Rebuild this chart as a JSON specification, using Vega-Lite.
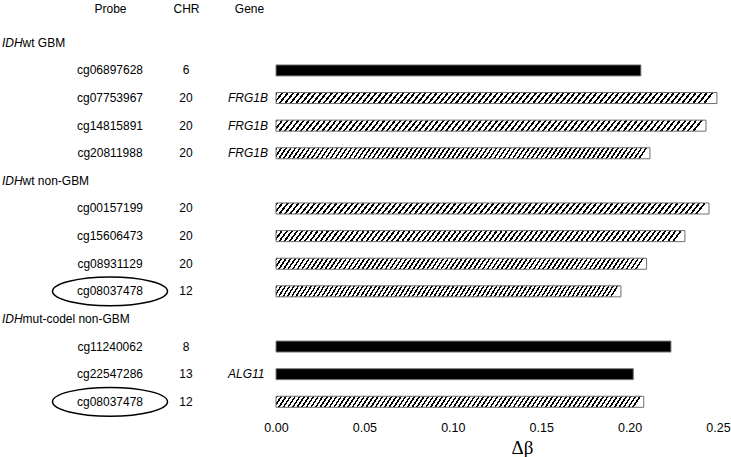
{
  "$schema": "https://vega.github.io/schema/vega-lite/v6.json",
  "background": "white",
  "padding": {"left": 2, "top": 2, "right": 5, "bottom": 3},
  "datasets": {
    "rows": [
      {"id": "r01", "kind": "group", "pre": "IDH", "rest": "wt GBM"},
      {"id": "r02", "kind": "probe", "probe": "cg06897628", "chr": "6", "gene": "", "delta": 0.2064, "pattern": "solid", "circled": false},
      {"id": "r03", "kind": "probe", "probe": "cg07753967", "chr": "20", "gene": "FRG1B", "delta": 0.2494, "pattern": "hatched", "circled": false},
      {"id": "r04", "kind": "probe", "probe": "cg14815891", "chr": "20", "gene": "FRG1B", "delta": 0.2432, "pattern": "hatched", "circled": false},
      {"id": "r05", "kind": "probe", "probe": "cg20811988", "chr": "20", "gene": "FRG1B", "delta": 0.2115, "pattern": "hatched", "circled": false},
      {"id": "r06", "kind": "group", "pre": "IDH", "rest": "wt non-GBM"},
      {"id": "r07", "kind": "probe", "probe": "cg00157199", "chr": "20", "gene": "", "delta": 0.2449, "pattern": "hatched", "circled": false},
      {"id": "r08", "kind": "probe", "probe": "cg15606473", "chr": "20", "gene": "", "delta": 0.2313, "pattern": "hatched", "circled": false},
      {"id": "r09", "kind": "probe", "probe": "cg08931129", "chr": "20", "gene": "", "delta": 0.2096, "pattern": "hatched", "circled": false},
      {"id": "r10", "kind": "probe", "probe": "cg08037478", "chr": "12", "gene": "", "delta": 0.1951, "pattern": "hatched", "circled": true},
      {"id": "r11", "kind": "group", "pre": "IDH", "rest": "mut-codel non-GBM"},
      {"id": "r12", "kind": "probe", "probe": "cg11240062", "chr": "8", "gene": "", "delta": 0.2234, "pattern": "solid", "circled": false},
      {"id": "r13", "kind": "probe", "probe": "cg22547286", "chr": "13", "gene": "ALG11", "delta": 0.2021, "pattern": "solid", "circled": false},
      {"id": "r14", "kind": "probe", "probe": "cg08037478", "chr": "12", "gene": "", "delta": 0.2080, "pattern": "hatched", "circled": true}
    ]
  },
  "data": {"name": "rows"},
  "spacing": 0,
  "bounds": "flush",
  "resolve": {"scale": {"x": "independent", "y": "shared"}},
  "hconcat": [
    {
      "width": 148,
      "height": 386.6,
      "layer": [
        {
          "transform": [{"filter": "datum.kind === 'group'"}],
          "mark": {"type": "text", "align": "left", "baseline": "middle", "fontStyle": "italic"},
          "encoding": {
            "x": {"datum": "_", "type": "nominal", "scale": {"type": "point", "domain": ["_", "Probe"], "padding": 0.1852, "align": 0}, "axis": {"orient": "top", "values": ["Probe"], "title": null, "domain": false, "ticks": false, "tickSize": 0, "labelPadding": 13.8, "labelAngle": 0, "labelFontSize": 12, "labelColor": "black", "grid": false}},
            "y": {"field": "id", "type": "nominal", "axis": null, "scale": {"type": "band", "paddingInner": 0.6, "paddingOuter": 0.3}},
            "text": {"field": "pre"}
          }
        },
        {
          "transform": [{"filter": "datum.kind === 'group'"}],
          "mark": {"type": "text", "align": "left", "baseline": "middle", "dx": 20.5},
          "encoding": {
            "x": {"datum": "_", "type": "nominal", "scale": {"type": "point", "domain": ["_", "Probe"], "padding": 0.1852, "align": 0}, "axis": {"orient": "top", "values": ["Probe"], "title": null, "domain": false, "ticks": false, "tickSize": 0, "labelPadding": 13.8, "labelAngle": 0, "labelFontSize": 12, "labelColor": "black", "grid": false}},
            "y": {"field": "id", "type": "nominal", "axis": null, "scale": {"type": "band", "paddingInner": 0.6, "paddingOuter": 0.3}},
            "text": {"field": "rest"}
          }
        },
        {
          "transform": [{"filter": "datum.kind === 'probe'"}],
          "mark": {"type": "text", "align": "center", "baseline": "middle"},
          "encoding": {
            "x": {"datum": "Probe", "type": "nominal", "scale": {"type": "point", "domain": ["_", "Probe"], "padding": 0.1852, "align": 0}, "axis": {"orient": "top", "values": ["Probe"], "title": null, "domain": false, "ticks": false, "tickSize": 0, "labelPadding": 13.8, "labelAngle": 0, "labelFontSize": 12, "labelColor": "black", "grid": false}},
            "y": {"field": "id", "type": "nominal", "axis": null, "scale": {"type": "band", "paddingInner": 0.6, "paddingOuter": 0.3}},
            "text": {"field": "probe"}
          }
        },
        {
          "transform": [{"filter": "datum.circled === true"}],
          "mark": {"type": "point", "shape": "M -1 0 A 1 0.25 0 1 1 1 0 A 1 0.25 0 1 1 -1 0 Z", "size": 13225, "filled": false, "stroke": "black", "strokeWidth": 1.5, "opacity": 1},
          "encoding": {
            "x": {"datum": "Probe", "type": "nominal", "scale": {"type": "point", "domain": ["_", "Probe"], "padding": 0.1852, "align": 0}, "axis": {"orient": "top", "values": ["Probe"], "title": null, "domain": false, "ticks": false, "tickSize": 0, "labelPadding": 13.8, "labelAngle": 0, "labelFontSize": 12, "labelColor": "black", "grid": false}},
            "y": {"field": "id", "type": "nominal", "axis": null, "scale": {"type": "band", "paddingInner": 0.6, "paddingOuter": 0.3}}
          }
        }
      ]
    },
    {
      "width": 72,
      "height": 386.6,
      "transform": [{"filter": "datum.kind === 'probe'"}],
      "mark": {"type": "text", "align": "center", "baseline": "middle"},
      "encoding": {
        "x": {"datum": "CHR", "type": "nominal", "scale": {"type": "point"}, "axis": {"orient": "top", "title": null, "domain": false, "ticks": false, "tickSize": 0, "labelPadding": 13.8, "labelAngle": 0, "labelFontSize": 12, "labelColor": "black", "grid": false}},
        "y": {"field": "id", "type": "nominal", "axis": null, "scale": {"type": "band", "paddingInner": 0.6, "paddingOuter": 0.3}},
        "text": {"field": "chr"}
      }
    },
    {
      "width": 54,
      "height": 386.6,
      "transform": [{"filter": "datum.kind === 'probe'"}],
      "mark": {"type": "text", "align": "left", "baseline": "middle", "fontStyle": "italic", "dx": -21},
      "encoding": {
        "x": {"datum": "Gene", "type": "nominal", "scale": {"type": "point"}, "axis": {"orient": "top", "title": null, "domain": false, "ticks": false, "tickSize": 0, "labelPadding": 13.8, "labelAngle": 0, "labelFontSize": 12, "labelColor": "black", "grid": false}},
        "y": {"field": "id", "type": "nominal", "axis": null, "scale": {"type": "band", "paddingInner": 0.6, "paddingOuter": 0.3}},
        "text": {"field": "gene"}
      }
    },
    {
      "width": 442,
      "height": 386.6,
      "encoding": {
        "x": {"field": "delta", "type": "quantitative", "scale": {"domain": [0, 0.25], "nice": false, "zero": true}, "axis": {"values": [0, 0.05, 0.1, 0.15, 0.2, 0.25], "format": ".2f", "domain": false, "ticks": false, "tickSize": 0, "grid": false, "labelFlush": false, "labelOverlap": false, "labelPadding": 6, "labelFontSize": 12.5, "labelColor": "black", "title": "Δβ", "titleFont": "Liberation Serif", "titleFontSize": 19, "titleFontWeight": "normal", "titleColor": "black", "titlePadding": 4, "titleX": 246}},
        "y": {"field": "id", "type": "nominal", "axis": null, "scale": {"type": "band", "paddingInner": 0.6, "paddingOuter": 0.3}}
      },
      "layer": [
        {
          "transform": [{"filter": "datum.pattern === 'solid'"}],
          "mark": {"type": "bar", "fill": "black", "stroke": "#808080", "strokeWidth": 1}
        },
        {
          "transform": [{"filter": "datum.pattern === 'hatched'"}],
          "mark": {"type": "bar", "stroke": "#6e6e6e", "strokeWidth": 1, "fill": {"gradient": "linear", "x1": 0, "y1": 0, "x2": 1, "y2": 0.02, "stops": [
            {"offset": 0, "color": "#000"}, {"offset": 0.005, "color": "#000"}, {"offset": 0.005, "color": "#fff"}, {"offset": 0.0125, "color": "#fff"},
            {"offset": 0.0125, "color": "#000"}, {"offset": 0.0175, "color": "#000"}, {"offset": 0.0175, "color": "#fff"}, {"offset": 0.025, "color": "#fff"},
            {"offset": 0.025, "color": "#000"}, {"offset": 0.03, "color": "#000"}, {"offset": 0.03, "color": "#fff"}, {"offset": 0.0375, "color": "#fff"},
            {"offset": 0.0375, "color": "#000"}, {"offset": 0.0425, "color": "#000"}, {"offset": 0.0425, "color": "#fff"}, {"offset": 0.05, "color": "#fff"},
            {"offset": 0.05, "color": "#000"}, {"offset": 0.055, "color": "#000"}, {"offset": 0.055, "color": "#fff"}, {"offset": 0.0625, "color": "#fff"},
            {"offset": 0.0625, "color": "#000"}, {"offset": 0.0675, "color": "#000"}, {"offset": 0.0675, "color": "#fff"}, {"offset": 0.075, "color": "#fff"},
            {"offset": 0.075, "color": "#000"}, {"offset": 0.08, "color": "#000"}, {"offset": 0.08, "color": "#fff"}, {"offset": 0.0875, "color": "#fff"},
            {"offset": 0.0875, "color": "#000"}, {"offset": 0.0925, "color": "#000"}, {"offset": 0.0925, "color": "#fff"}, {"offset": 0.1, "color": "#fff"},
            {"offset": 0.1, "color": "#000"}, {"offset": 0.105, "color": "#000"}, {"offset": 0.105, "color": "#fff"}, {"offset": 0.1125, "color": "#fff"},
            {"offset": 0.1125, "color": "#000"}, {"offset": 0.1175, "color": "#000"}, {"offset": 0.1175, "color": "#fff"}, {"offset": 0.125, "color": "#fff"},
            {"offset": 0.125, "color": "#000"}, {"offset": 0.13, "color": "#000"}, {"offset": 0.13, "color": "#fff"}, {"offset": 0.1375, "color": "#fff"},
            {"offset": 0.1375, "color": "#000"}, {"offset": 0.1425, "color": "#000"}, {"offset": 0.1425, "color": "#fff"}, {"offset": 0.15, "color": "#fff"},
            {"offset": 0.15, "color": "#000"}, {"offset": 0.155, "color": "#000"}, {"offset": 0.155, "color": "#fff"}, {"offset": 0.1625, "color": "#fff"},
            {"offset": 0.1625, "color": "#000"}, {"offset": 0.1675, "color": "#000"}, {"offset": 0.1675, "color": "#fff"}, {"offset": 0.175, "color": "#fff"},
            {"offset": 0.175, "color": "#000"}, {"offset": 0.18, "color": "#000"}, {"offset": 0.18, "color": "#fff"}, {"offset": 0.1875, "color": "#fff"},
            {"offset": 0.1875, "color": "#000"}, {"offset": 0.1925, "color": "#000"}, {"offset": 0.1925, "color": "#fff"}, {"offset": 0.2, "color": "#fff"},
            {"offset": 0.2, "color": "#000"}, {"offset": 0.205, "color": "#000"}, {"offset": 0.205, "color": "#fff"}, {"offset": 0.2125, "color": "#fff"},
            {"offset": 0.2125, "color": "#000"}, {"offset": 0.2175, "color": "#000"}, {"offset": 0.2175, "color": "#fff"}, {"offset": 0.225, "color": "#fff"},
            {"offset": 0.225, "color": "#000"}, {"offset": 0.23, "color": "#000"}, {"offset": 0.23, "color": "#fff"}, {"offset": 0.2375, "color": "#fff"},
            {"offset": 0.2375, "color": "#000"}, {"offset": 0.2425, "color": "#000"}, {"offset": 0.2425, "color": "#fff"}, {"offset": 0.25, "color": "#fff"},
            {"offset": 0.25, "color": "#000"}, {"offset": 0.255, "color": "#000"}, {"offset": 0.255, "color": "#fff"}, {"offset": 0.2625, "color": "#fff"},
            {"offset": 0.2625, "color": "#000"}, {"offset": 0.2675, "color": "#000"}, {"offset": 0.2675, "color": "#fff"}, {"offset": 0.275, "color": "#fff"},
            {"offset": 0.275, "color": "#000"}, {"offset": 0.28, "color": "#000"}, {"offset": 0.28, "color": "#fff"}, {"offset": 0.2875, "color": "#fff"},
            {"offset": 0.2875, "color": "#000"}, {"offset": 0.2925, "color": "#000"}, {"offset": 0.2925, "color": "#fff"}, {"offset": 0.3, "color": "#fff"},
            {"offset": 0.3, "color": "#000"}, {"offset": 0.305, "color": "#000"}, {"offset": 0.305, "color": "#fff"}, {"offset": 0.3125, "color": "#fff"},
            {"offset": 0.3125, "color": "#000"}, {"offset": 0.3175, "color": "#000"}, {"offset": 0.3175, "color": "#fff"}, {"offset": 0.325, "color": "#fff"},
            {"offset": 0.325, "color": "#000"}, {"offset": 0.33, "color": "#000"}, {"offset": 0.33, "color": "#fff"}, {"offset": 0.3375, "color": "#fff"},
            {"offset": 0.3375, "color": "#000"}, {"offset": 0.3425, "color": "#000"}, {"offset": 0.3425, "color": "#fff"}, {"offset": 0.35, "color": "#fff"},
            {"offset": 0.35, "color": "#000"}, {"offset": 0.355, "color": "#000"}, {"offset": 0.355, "color": "#fff"}, {"offset": 0.3625, "color": "#fff"},
            {"offset": 0.3625, "color": "#000"}, {"offset": 0.3675, "color": "#000"}, {"offset": 0.3675, "color": "#fff"}, {"offset": 0.375, "color": "#fff"},
            {"offset": 0.375, "color": "#000"}, {"offset": 0.38, "color": "#000"}, {"offset": 0.38, "color": "#fff"}, {"offset": 0.3875, "color": "#fff"},
            {"offset": 0.3875, "color": "#000"}, {"offset": 0.3925, "color": "#000"}, {"offset": 0.3925, "color": "#fff"}, {"offset": 0.4, "color": "#fff"},
            {"offset": 0.4, "color": "#000"}, {"offset": 0.405, "color": "#000"}, {"offset": 0.405, "color": "#fff"}, {"offset": 0.4125, "color": "#fff"},
            {"offset": 0.4125, "color": "#000"}, {"offset": 0.4175, "color": "#000"}, {"offset": 0.4175, "color": "#fff"}, {"offset": 0.425, "color": "#fff"},
            {"offset": 0.425, "color": "#000"}, {"offset": 0.43, "color": "#000"}, {"offset": 0.43, "color": "#fff"}, {"offset": 0.4375, "color": "#fff"},
            {"offset": 0.4375, "color": "#000"}, {"offset": 0.4425, "color": "#000"}, {"offset": 0.4425, "color": "#fff"}, {"offset": 0.45, "color": "#fff"},
            {"offset": 0.45, "color": "#000"}, {"offset": 0.455, "color": "#000"}, {"offset": 0.455, "color": "#fff"}, {"offset": 0.4625, "color": "#fff"},
            {"offset": 0.4625, "color": "#000"}, {"offset": 0.4675, "color": "#000"}, {"offset": 0.4675, "color": "#fff"}, {"offset": 0.475, "color": "#fff"},
            {"offset": 0.475, "color": "#000"}, {"offset": 0.48, "color": "#000"}, {"offset": 0.48, "color": "#fff"}, {"offset": 0.4875, "color": "#fff"},
            {"offset": 0.4875, "color": "#000"}, {"offset": 0.4925, "color": "#000"}, {"offset": 0.4925, "color": "#fff"}, {"offset": 0.5, "color": "#fff"},
            {"offset": 0.5, "color": "#000"}, {"offset": 0.505, "color": "#000"}, {"offset": 0.505, "color": "#fff"}, {"offset": 0.5125, "color": "#fff"},
            {"offset": 0.5125, "color": "#000"}, {"offset": 0.5175, "color": "#000"}, {"offset": 0.5175, "color": "#fff"}, {"offset": 0.525, "color": "#fff"},
            {"offset": 0.525, "color": "#000"}, {"offset": 0.53, "color": "#000"}, {"offset": 0.53, "color": "#fff"}, {"offset": 0.5375, "color": "#fff"},
            {"offset": 0.5375, "color": "#000"}, {"offset": 0.5425, "color": "#000"}, {"offset": 0.5425, "color": "#fff"}, {"offset": 0.55, "color": "#fff"},
            {"offset": 0.55, "color": "#000"}, {"offset": 0.555, "color": "#000"}, {"offset": 0.555, "color": "#fff"}, {"offset": 0.5625, "color": "#fff"},
            {"offset": 0.5625, "color": "#000"}, {"offset": 0.5675, "color": "#000"}, {"offset": 0.5675, "color": "#fff"}, {"offset": 0.575, "color": "#fff"},
            {"offset": 0.575, "color": "#000"}, {"offset": 0.58, "color": "#000"}, {"offset": 0.58, "color": "#fff"}, {"offset": 0.5875, "color": "#fff"},
            {"offset": 0.5875, "color": "#000"}, {"offset": 0.5925, "color": "#000"}, {"offset": 0.5925, "color": "#fff"}, {"offset": 0.6, "color": "#fff"},
            {"offset": 0.6, "color": "#000"}, {"offset": 0.605, "color": "#000"}, {"offset": 0.605, "color": "#fff"}, {"offset": 0.6125, "color": "#fff"},
            {"offset": 0.6125, "color": "#000"}, {"offset": 0.6175, "color": "#000"}, {"offset": 0.6175, "color": "#fff"}, {"offset": 0.625, "color": "#fff"},
            {"offset": 0.625, "color": "#000"}, {"offset": 0.63, "color": "#000"}, {"offset": 0.63, "color": "#fff"}, {"offset": 0.6375, "color": "#fff"},
            {"offset": 0.6375, "color": "#000"}, {"offset": 0.6425, "color": "#000"}, {"offset": 0.6425, "color": "#fff"}, {"offset": 0.65, "color": "#fff"},
            {"offset": 0.65, "color": "#000"}, {"offset": 0.655, "color": "#000"}, {"offset": 0.655, "color": "#fff"}, {"offset": 0.6625, "color": "#fff"},
            {"offset": 0.6625, "color": "#000"}, {"offset": 0.6675, "color": "#000"}, {"offset": 0.6675, "color": "#fff"}, {"offset": 0.675, "color": "#fff"},
            {"offset": 0.675, "color": "#000"}, {"offset": 0.68, "color": "#000"}, {"offset": 0.68, "color": "#fff"}, {"offset": 0.6875, "color": "#fff"},
            {"offset": 0.6875, "color": "#000"}, {"offset": 0.6925, "color": "#000"}, {"offset": 0.6925, "color": "#fff"}, {"offset": 0.7, "color": "#fff"},
            {"offset": 0.7, "color": "#000"}, {"offset": 0.705, "color": "#000"}, {"offset": 0.705, "color": "#fff"}, {"offset": 0.7125, "color": "#fff"},
            {"offset": 0.7125, "color": "#000"}, {"offset": 0.7175, "color": "#000"}, {"offset": 0.7175, "color": "#fff"}, {"offset": 0.725, "color": "#fff"},
            {"offset": 0.725, "color": "#000"}, {"offset": 0.73, "color": "#000"}, {"offset": 0.73, "color": "#fff"}, {"offset": 0.7375, "color": "#fff"},
            {"offset": 0.7375, "color": "#000"}, {"offset": 0.7425, "color": "#000"}, {"offset": 0.7425, "color": "#fff"}, {"offset": 0.75, "color": "#fff"},
            {"offset": 0.75, "color": "#000"}, {"offset": 0.755, "color": "#000"}, {"offset": 0.755, "color": "#fff"}, {"offset": 0.7625, "color": "#fff"},
            {"offset": 0.7625, "color": "#000"}, {"offset": 0.7675, "color": "#000"}, {"offset": 0.7675, "color": "#fff"}, {"offset": 0.775, "color": "#fff"},
            {"offset": 0.775, "color": "#000"}, {"offset": 0.78, "color": "#000"}, {"offset": 0.78, "color": "#fff"}, {"offset": 0.7875, "color": "#fff"},
            {"offset": 0.7875, "color": "#000"}, {"offset": 0.7925, "color": "#000"}, {"offset": 0.7925, "color": "#fff"}, {"offset": 0.8, "color": "#fff"},
            {"offset": 0.8, "color": "#000"}, {"offset": 0.805, "color": "#000"}, {"offset": 0.805, "color": "#fff"}, {"offset": 0.8125, "color": "#fff"},
            {"offset": 0.8125, "color": "#000"}, {"offset": 0.8175, "color": "#000"}, {"offset": 0.8175, "color": "#fff"}, {"offset": 0.825, "color": "#fff"},
            {"offset": 0.825, "color": "#000"}, {"offset": 0.83, "color": "#000"}, {"offset": 0.83, "color": "#fff"}, {"offset": 0.8375, "color": "#fff"},
            {"offset": 0.8375, "color": "#000"}, {"offset": 0.8425, "color": "#000"}, {"offset": 0.8425, "color": "#fff"}, {"offset": 0.85, "color": "#fff"},
            {"offset": 0.85, "color": "#000"}, {"offset": 0.855, "color": "#000"}, {"offset": 0.855, "color": "#fff"}, {"offset": 0.8625, "color": "#fff"},
            {"offset": 0.8625, "color": "#000"}, {"offset": 0.8675, "color": "#000"}, {"offset": 0.8675, "color": "#fff"}, {"offset": 0.875, "color": "#fff"},
            {"offset": 0.875, "color": "#000"}, {"offset": 0.88, "color": "#000"}, {"offset": 0.88, "color": "#fff"}, {"offset": 0.8875, "color": "#fff"},
            {"offset": 0.8875, "color": "#000"}, {"offset": 0.8925, "color": "#000"}, {"offset": 0.8925, "color": "#fff"}, {"offset": 0.9, "color": "#fff"},
            {"offset": 0.9, "color": "#000"}, {"offset": 0.905, "color": "#000"}, {"offset": 0.905, "color": "#fff"}, {"offset": 0.9125, "color": "#fff"},
            {"offset": 0.9125, "color": "#000"}, {"offset": 0.9175, "color": "#000"}, {"offset": 0.9175, "color": "#fff"}, {"offset": 0.925, "color": "#fff"},
            {"offset": 0.925, "color": "#000"}, {"offset": 0.93, "color": "#000"}, {"offset": 0.93, "color": "#fff"}, {"offset": 0.9375, "color": "#fff"},
            {"offset": 0.9375, "color": "#000"}, {"offset": 0.9425, "color": "#000"}, {"offset": 0.9425, "color": "#fff"}, {"offset": 0.95, "color": "#fff"},
            {"offset": 0.95, "color": "#000"}, {"offset": 0.955, "color": "#000"}, {"offset": 0.955, "color": "#fff"}, {"offset": 0.9625, "color": "#fff"},
            {"offset": 0.9625, "color": "#000"}, {"offset": 0.9675, "color": "#000"}, {"offset": 0.9675, "color": "#fff"}, {"offset": 0.975, "color": "#fff"},
            {"offset": 0.975, "color": "#000"}, {"offset": 0.98, "color": "#000"}, {"offset": 0.98, "color": "#fff"}, {"offset": 0.9875, "color": "#fff"},
            {"offset": 0.9875, "color": "#000"}, {"offset": 0.9925, "color": "#000"}, {"offset": 0.9925, "color": "#fff"}, {"offset": 1, "color": "#fff"}
          ]}}
        }
      ]
    }
  ],
  "config": {
    "view": {"stroke": null},
    "font": "Liberation Sans",
    "text": {"fontSize": 12, "color": "black", "font": "Liberation Sans"},
    "axis": {"labelFont": "Liberation Sans"}
  }
}
